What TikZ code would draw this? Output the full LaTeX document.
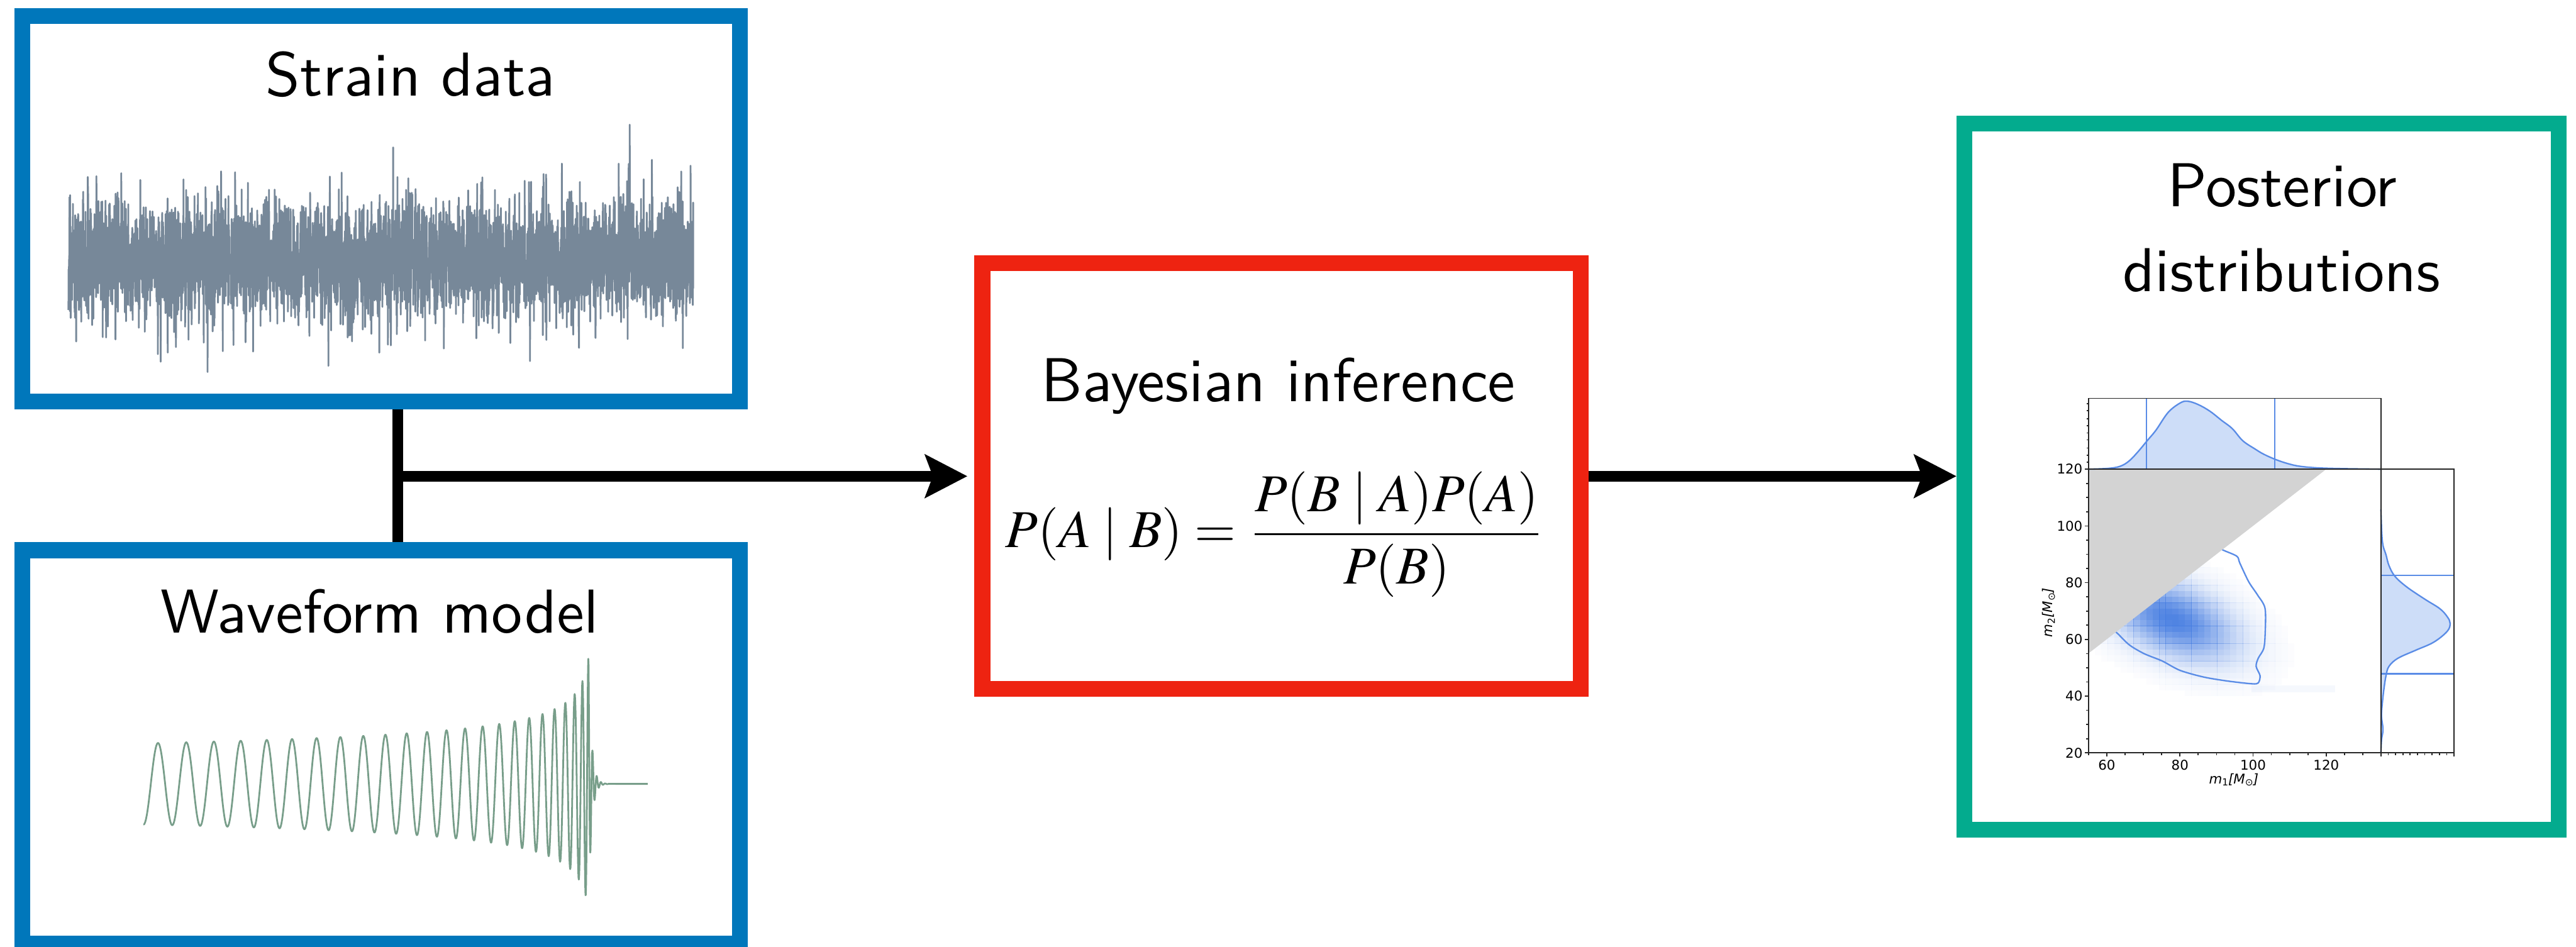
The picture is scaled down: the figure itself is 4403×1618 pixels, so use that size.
\documentclass[tikz,border=0pt]{standalone}
\usepackage{mathptmx}
\usepackage[no-math]{fontspec}
\renewcommand\rmdefault{lmr}
\newfontfamily\dejavu{DejaVu Sans}
\usetikzlibrary{arrows.meta}
\definecolor{tolblue}{RGB}{0,119,187}
\definecolor{tred}{RGB}{238,35,17}
\definecolor{tgreen}{RGB}{3,171,142}
\definecolor{straincol}{RGB}{119,136,153}
\definecolor{wavecol}{RGB}{120,158,138}
\definecolor{mblue}{RGB}{90,140,230}
\definecolor{dens}{RGB}{70,125,225}
\definecolor{lgray}{RGB}{211,211,211}
\tikzset{
  box/.style={draw, line width=2.7pt, inner sep=0pt, fill=white},
  lbl/.style={font=\sffamily\fontsize{10.6}{12.7}\selectfont, inner sep=0pt},
  conn/.style={line width=1.8pt, draw=black},
  arr/.style={conn, -{Stealth[length=7.2pt,width=7.3pt,inset=1.3pt]}},
  frame/.style={draw=black!85, line width=0.18pt},
  tk/.style={font=\dejavu\fontsize{2.3}{2.8}\selectfont, inner sep=0pt},
  kde/.style={draw=mblue, line width=0.25pt},
  kdefill/.style={fill=mblue!30},
}
\newcommand\subsz[1]{\raisebox{-0.3ex}{\fontsize{1.65}{2}\selectfont\upshape #1}}
\begin{document}
\begin{tikzpicture}[x=0.1pt,y=-0.1pt]
\clip (0,0) rectangle (4403,1618);
\fill[white] (0,0) rectangle (4403,1618);

% ---------- boxes ----------
\node[box, draw=tolblue, minimum width=122.6pt, minimum height=65.9pt] (strain) at (651.5,357) {};
\node[box, draw=tolblue, minimum width=122.6pt, minimum height=67.3pt] (wave) at (651.5,1277) {};
\node[box, draw=tred, minimum width=102.3pt, minimum height=72.8pt] (bayes) at (2190.5,814) {};
\node[box, draw=tgreen, minimum width=101.6pt, minimum height=120.7pt] (post) at (3865.5,815) {};

% ---------- titles ----------
\node[lbl, anchor=base] (tstrain) at (702,164) {Strain data};
\node[lbl, anchor=base] (twave) at (649,1082) {Waveform model};
\node[lbl, anchor=base] (tbayes) at (2185,686) {Bayesian inference};
\node[lbl, anchor=base] (tpost1) at (3901,353) {Posterior};
\node[lbl, anchor=base] (tpost2) at (3900,498) {distributions};
\node[anchor=base, inner sep=0pt, font=\fontsize{9.1}{11}\selectfont] (formula) at (2180,936)
  {$\displaystyle P(A\mid B)=\frac{P(B\mid A)P(A)}{P(B)}$};

% ---------- connectors ----------
\draw[conn] ([xshift=2.85pt]strain.south) -- ([xshift=2.85pt]wave.north);
\coordinate (junc) at (680,814);
\draw[arr, shorten >=1.2pt] (junc) -- (bayes.west);
\draw[arr] (bayes.east) -- (bayes.east -| post.west);

% ---------- strain noise ----------
\pgfmathsetseed{7}
\draw[straincol, line width=0.3pt, line join=round]
  plot[domain=117:1185, samples=4200] (\x, {445+44*(rand+rand+rand+rand)*(1+0.6*rand*rand)});

% ---------- waveform ----------
\draw[wavecol, line width=0.3pt, line join=round]
  plot[domain=245:1006, samples=1600] (\x, {1340-365/pow(1014-\x,0.25)*sin(140.3*pow(1012-\x,0.625))})
  -- plot[domain=1006:1040, samples=140] (\x, {1340-217*exp(-(\x-1006)/5)*sin(430-50*(\x-1006))})
  -- (1107,1340);

% ---------- posterior: 2D density ----------
\foreach \i in {0,...,36}{
  \foreach \j in {0,...,34}{
    \pgfmathsetmacro{\mo}{60+(3569.5+11*\i+5.5-3601)/6.25-78}
    \pgfmathsetmacro{\mt}{120-(870+10*\j+5-802)/4.85-67}
    \pgfmathsetmacro{\uu}{0.82*\mo-0.57*\mt}
    \pgfmathsetmacro{\vv}{0.57*\mo+0.82*\mt}
    \pgfmathsetmacro{\dd}{0.95*exp(-min(8,\uu*\uu/330+\vv*\vv/120))}
    \ifdim\dd pt>0.015pt
      \fill[dens, opacity=\dd] (3569.5+11*\i,870+10*\j) rectangle ++(11.3,10.3);
    \fi
  }
}
\fill[dens, opacity=0.05] (3848,1172) rectangle (3991,1183);

% contour
\draw[kde] plot[smooth, tension=0.5] coordinates {
 (3605,1072) (3618,1081.6) (3639.4,1102.3) (3664.9,1117.4) (3695.5,1129.8)
 (3726.1,1145.9) (3766.9,1157.4) (3807.8,1164.2) (3848.6,1168.8) (3859.8,1167.4)
 (3862.9,1155) (3856.2,1139) (3859.8,1125.2) (3869,1109.1) (3871.5,1086.2)
 (3871.5,1040.3) (3858.8,1017.3) (3843.5,994.4) (3828.2,962.2) (3823.1,950.7)
 (3797.6,939.3) (3785,930)};

% excluded region m2>m1
\fill[lgray] (3569.5,802) -- (3976,802) -- (3569.5,1117) -- cycle;

% top marginal
\path[kdefill] plot[smooth, tension=0.6] coordinates {
 (3569.5,802) (3603.7,800.6) (3624.1,796.9) (3639.4,787.7) (3654.7,771.7)
 (3670,753.3) (3685.3,734.9) (3705.7,705.1) (3726.1,689) (3738.9,685.8)
 (3756.7,691.3) (3777.1,702.8) (3797.6,718.9) (3815.4,732.6) (3833.3,753.3)
 (3853.7,767.1) (3869,776.3) (3889.4,785.4) (3909.8,792.3) (3930.2,796.9)
 (3960.8,799.7) (4006.7,801.1) (4069.5,802)} -- cycle;
\draw[kde] plot[smooth, tension=0.6] coordinates {
 (3569.5,802) (3603.7,800.6) (3624.1,796.9) (3639.4,787.7) (3654.7,771.7)
 (3670,753.3) (3685.3,734.9) (3705.7,705.1) (3726.1,689) (3738.9,685.8)
 (3756.7,691.3) (3777.1,702.8) (3797.6,718.9) (3815.4,732.6) (3833.3,753.3)
 (3853.7,767.1) (3869,776.3) (3889.4,785.4) (3909.8,792.3) (3930.2,796.9)
 (3960.8,799.7) (4006.7,801.1) (4069.5,802)};
\draw[kde] (3668.5,681) -- (3668.5,802);
\draw[kde] (3887.9,681) -- (3887.9,802);

% right marginal
\path[kdefill] plot[smooth, tension=0.6] coordinates {
 (4069.5,870.4) (4072,925.5) (4078.2,948.4) (4083.3,966.8) (4093.5,985.2)
 (4113.9,1003.5) (4144.5,1024.2) (4170,1040.3) (4182.7,1054) (4187.8,1065.5)
 (4182.7,1079.3) (4159.8,1097.7) (4129.2,1111.4) (4098.6,1125.2) (4083.3,1139)
 (4078.2,1155) (4074.6,1178) (4072,1201) (4070.5,1224) (4073,1246.9)
 (4070.5,1265.2) (4069.5,1287)} -- cycle;
\draw[kde] plot[smooth, tension=0.6] coordinates {
 (4069.5,870.4) (4072,925.5) (4078.2,948.4) (4083.3,966.8) (4093.5,985.2)
 (4113.9,1003.5) (4144.5,1024.2) (4170,1040.3) (4182.7,1054) (4187.8,1065.5)
 (4182.7,1079.3) (4159.8,1097.7) (4129.2,1111.4) (4098.6,1125.2) (4083.3,1139)
 (4078.2,1155) (4074.6,1178) (4072,1201) (4070.5,1224) (4073,1246.9)
 (4070.5,1265.2) (4069.5,1287)};
\draw[kde] (4069.5,983.8) -- (4194.5,983.8);
\draw[kde] (4069.5,1151.8) -- (4194.5,1151.8);

% frames
\draw[frame] (3569.5,802) rectangle (4069.5,1287);
\draw[frame] (3569.5,802) -- (3569.5,681) -- (4069.5,681) -- (4069.5,802);
\draw[frame] (4069.5,802) -- (4194.5,802) -- (4194.5,1287) -- (4069.5,1287);

% ticks main left
\foreach \v in {20,25,...,120}{
  \pgfmathsetmacro\yy{802+(120-\v)*4.85}
  \draw[frame] (3569.5,\yy) -- ++(-3.5,0);
}
\foreach \v in {20,40,...,120}{
  \pgfmathsetmacro\yy{802+(120-\v)*4.85}
  \draw[frame] (3569.5,\yy) -- ++(-6,0);
  \node[tk, anchor=east] at (3561.5,\yy) {\v};
}
% ticks main bottom
\foreach \v in {55,60,...,135}{
  \pgfmathsetmacro\xx{3601+(\v-60)*6.25}
  \draw[frame] (\xx,1287) -- ++(0,3.5);
}
\foreach \v in {60,80,100,120}{
  \pgfmathsetmacro\xx{3601+(\v-60)*6.25}
  \draw[frame] (\xx,1287) -- ++(0,6);
  \node[tk] at (\xx,1307.5) {\v};
}
% ticks top marginal (left) and right marginal (bottom)
\foreach \yy in {690,702,716,728,740,752,766,778,790}{
  \draw[frame] (3569.5,\yy) -- ++(-3,0);
}
\foreach \xx in {4082,4094.5,...,4182}{
  \draw[frame] (\xx,1287) -- ++(0,3.5);
}
\draw[frame] (4069.5,1287) -- ++(0,6);
\draw[frame] (4194.5,1287) -- ++(0,6);

% axis labels
\node[tk] (xlab) at (3818,1333) {\itshape m\subsz{1}[M\subsz{⊙}]};
\node[tk, rotate=90] (ylab) at (3501.6,1047) {\itshape m\subsz{2}[M\subsz{⊙}]};
\end{tikzpicture}
\end{document}
